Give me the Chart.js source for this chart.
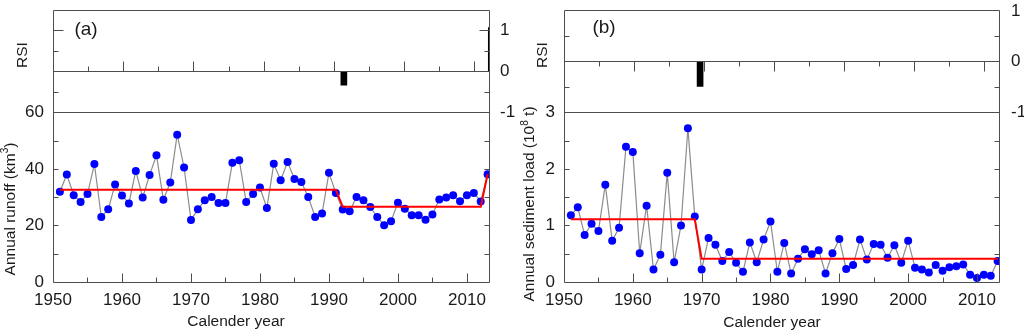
<!DOCTYPE html>
<html>
<head>
<meta charset="utf-8">
<title>Runoff and sediment load</title>
<script src="https://cdn.jsdelivr.net/npm/chart.js@4.4.0/dist/chart.umd.min.js"></script>
<style>
    html, body { margin: 0; padding: 0; background: #ffffff; }
    body { width: 1024px; height: 333px; position: relative; overflow: hidden; }
    .panel { position: absolute; top: 0; height: 333px; }
    #panelA { left: 0; width: 520px; }
    #panelB { left: 500px; width: 524px; }
</style>
</head>
<body>
<div class="panel" id="panelA"><canvas id="chartA" width="520" height="333"></canvas></div>
<div class="panel" id="panelB"><canvas id="chartB" width="524" height="333"></canvas></div>
<script>
// ---- data ----
const years = [1951, 1952, 1953, 1954, 1955, 1956, 1957, 1958, 1959, 1960,
    1961, 1962, 1963, 1964, 1965, 1966, 1967, 1968, 1969, 1970,
    1971, 1972, 1973, 1974, 1975, 1976, 1977, 1978, 1979, 1980,
    1981, 1982, 1983, 1984, 1985, 1986, 1987, 1988, 1989, 1990,
    1991, 1992, 1993, 1994, 1995, 1996, 1997, 1998, 1999, 2000,
    2001, 2002, 2003, 2004, 2005, 2006, 2007, 2008, 2009, 2010,
    2011, 2012, 2013];

// Annual runoff (km3)
const runoff = [31.9, 38.0, 30.7, 28.3, 31.1, 41.7, 23.0, 25.7, 34.5, 30.6,
    27.8, 39.3, 29.9, 37.8, 44.8, 29.1, 35.2, 52.1, 40.5, 21.9,
    25.7, 28.9, 30.1, 27.9, 27.9, 42.2, 43.1, 28.3, 31.1, 33.4,
    26.2, 41.8, 36.0, 42.4, 36.4, 35.4, 30.1, 23.0, 24.2, 38.6,
    31.5, 25.6, 25.0, 30.1, 28.9, 26.5, 23.0, 20.1, 21.5, 28.0,
    25.9, 23.6, 23.6, 22.0, 23.9, 29.2, 29.9, 30.7, 28.6, 30.7,
    31.5, 28.5, 38.1];

// Annual sediment load (10^8 t)
const sediment = [1.18, 1.32, 0.83, 1.03, 0.90, 1.72, 0.73, 0.96, 2.39, 2.30,
    0.51, 1.35, 0.22, 0.48, 1.93, 0.35, 1.00, 2.72, 1.16, 0.22,
    0.78, 0.66, 0.37, 0.53, 0.34, 0.18, 0.70, 0.35, 0.75, 1.07,
    0.18, 0.69, 0.15, 0.41, 0.58, 0.49, 0.56, 0.15, 0.51, 0.76,
    0.23, 0.30, 0.75, 0.40, 0.67, 0.66, 0.43, 0.65, 0.34, 0.73,
    0.25, 0.22, 0.17, 0.30, 0.20, 0.26, 0.28, 0.31, 0.13, 0.07,
    0.13, 0.11, 0.37];

// regime-shift means (red step lines)
const runoffMeanX = [1951, 1991, 1992, 2012, 2013];
const runoffMeanY = [32.6, 32.6, 26.6, 26.6, 38.1];
const sedimentMeanX = [1951, 1969, 1970, 2013];
const sedimentMeanY = [1.11, 1.11, 0.41, 0.41];

// regime shift index bars
const rsiYearsA = [1991, 2012];
const rsiValuesA = [-0.34, 1.06];
const rsiYearsB = [1969];
const rsiValuesB = [-0.49];

// tick labels and tick marks
const yearLabels = [1950, 1960, 1970, 1980, 1990, 2000, 2010];
const yearMarks = [1955, 1960, 1965, 1970, 1975, 1980, 1985, 1990, 1995, 2000, 2005, 2010];
const rsiLabels = [-1, 0, 1];
const rsiMarks = [-0.5, 0.5, 1];
const runoffLabels = [0, 20, 40, 60];
const runoffMarks = [10, 20, 30, 40, 50];
const sedimentLabels = [0, 1, 2, 3];
const sedimentMarks = [0.5, 1, 1.5, 2, 2.5];

const FONT = '"Liberation Sans", Arial, Helvetica, sans-serif';
const INK = '#1a1a1a';
const FRAME = '#4d4d4d';

function setTicks(values) {
    return function(scale) {
        scale.ticks = values.map(v => ({ value: v }));
    };
}

// fixed axis sizes, and no extra room for half labels at the ends
function fixSize(w, h) {
    return function(scale) {
        if (w !== null) scale.width = w;
        if (h !== null) scale.height = h;
        scale.paddingTop = 0;
        scale.paddingBottom = 0;
        scale.paddingLeft = 0;
        scale.paddingRight = 0;
    };
}

function crisp(v) {
    return Math.round(v) + 0.5;
}

// draws rotated text (reading upward), parts = [[text, isSuperscript], ...]
function rotatedText(ctx, parts, cx, cy, size) {
    const sup = size * 0.65;
    ctx.save();
    ctx.translate(cx, cy);
    ctx.rotate(-Math.PI / 2);
    ctx.textAlign = 'left';
    ctx.textBaseline = 'middle';
    let total = 0;
    parts.forEach(p => {
        ctx.font = (p[1] ? sup : size) + 'px ' + FONT;
        total += ctx.measureText(p[0]).width;
    });
    let px = -total / 2;
    parts.forEach(p => {
        ctx.font = (p[1] ? sup : size) + 'px ' + FONT;
        ctx.fillText(p[0], px, p[1] ? -size * 0.33 : 0);
        px += ctx.measureText(p[0]).width;
    });
    ctx.restore();
}

// frame, inward ticks, the RSI baseline, RSI labels and the axis titles
const framePlugin = {
    id: 'frame',
    // the RSI bars are clipped by hand to the plot box
    beforeDatasetDraw(chart, args) {
        if (args.meta.type !== 'bar') return;
        const a = chart.chartArea;
        const ctx = chart.ctx;
        ctx.save();
        ctx.beginPath();
        ctx.rect(a.left, a.top, Math.round(a.right) + 0.5 - a.left, a.bottom - a.top);
        ctx.clip();
    },
    afterDatasetDraw(chart, args) {
        if (args.meta.type !== 'bar') return;
        chart.ctx.restore();
    },
    afterDatasetsDraw(chart, args, opts) {
        const { ctx, chartArea: a, scales } = chart;
        const left = crisp(a.left), right = crisp(a.right);
        const top = crisp(a.top), bottom = crisp(a.bottom);
        ctx.save();
        ctx.strokeStyle = FRAME;
        ctx.lineWidth = 1;
        ctx.beginPath();
        ctx.rect(left, top, right - left, bottom - top);

        // RSI zero line and lower edge of RSI strip
        const zero = crisp(scales.rsi.getPixelForValue(0));
        const lower = crisp(scales.rsi.getPixelForValue(-1));
        ctx.moveTo(left, zero); ctx.lineTo(right, zero);
        ctx.moveTo(left, lower); ctx.lineTo(right, lower);

        // year ticks on the bottom axis
        yearMarks.forEach(v => {
            const px = crisp(scales.x.getPixelForValue(v));
            const len = v % 10 === 0 ? 9 : 5;
            ctx.moveTo(px, bottom); ctx.lineTo(px, bottom - len);
        });
        // year ticks on the RSI zero line
        yearMarks.forEach(v => {
            const px = crisp(scales.xr.getPixelForValue(v));
            const len = (v % 10 === 0 ? 10 : 5) * opts.zeroTickDir;
            ctx.moveTo(px, zero); ctx.lineTo(px, zero - len);
        });
        // RSI ticks on both sides
        rsiMarks.forEach(v => {
            const py = crisp(scales.rsi.getPixelForValue(v));
            if (py <= top + 1) return;
            const len = Number.isInteger(v) ? 10 : 5;
            ctx.moveTo(left, py); ctx.lineTo(left + len, py);
            ctx.moveTo(right, py); ctx.lineTo(right - len, py);
        });
        // data axis ticks on both sides
        opts.dataMarks.forEach(v => {
            const py = crisp(scales.y.getPixelForValue(v));
            ctx.moveTo(left, py); ctx.lineTo(left + 5, py);
            ctx.moveTo(right, py); ctx.lineTo(right - 5, py);
        });
        ctx.stroke();

        ctx.fillStyle = INK;
        // RSI labels on the right (kept a few pixels inside the canvas top)
        ctx.font = '17px ' + FONT;
        ctx.textAlign = 'left';
        ctx.textBaseline = 'middle';
        rsiLabels.forEach(v => {
            const py = Math.max(scales.rsi.getPixelForValue(v), 11);
            ctx.fillText(String(v), a.right + opts.rightPad, py);
        });

        // titles
        rotatedText(ctx, [['RSI', false]], opts.rsiTitle[0], opts.rsiTitle[1], 15.5);
        rotatedText(ctx, opts.yTitle, opts.yTitlePos[0], opts.yTitlePos[1], 15.5);
        ctx.font = '15.5px ' + FONT;
        ctx.textAlign = 'center';
        ctx.fillText('Calender year', opts.xTitlePos[0], opts.xTitlePos[1]);
        ctx.font = '19px ' + FONT;
        ctx.fillText(opts.tag, opts.tagPos[0], opts.tagPos[1]);
        ctx.restore();
    }
};

function makeChart(canvasId, s) {
    const ctx = document.getElementById(canvasId);
    const tickFont = { family: FONT, size: 17 };
    return new Chart(ctx, {
        data: {
            datasets: [
                {
                    type: 'line',
                    data: s.meanX.map((x, i) => ({ x: x, y: s.meanY[i] })),
                    borderColor: '#ff0000',
                    borderWidth: 2,
                    pointRadius: 0,
                    xAxisID: 'x',
                    yAxisID: 'y'
                },
                {
                    type: 'line',
                    data: years.map((x, i) => ({ x: x, y: s.values[i] })),
                    borderColor: '#8c8c8c',
                    borderWidth: 1.2,
                    pointRadius: 4,
                    pointBackgroundColor: '#0000ff',
                    pointBorderColor: '#0000ff',
                    pointBorderWidth: 0,
                    xAxisID: 'x',
                    yAxisID: 'y'
                },
                {
                    type: 'bar',
                    data: s.rsiYears.map((x, i) => ({ x: x, y: s.rsiValues[i] })),
                    backgroundColor: '#000000',
                    barThickness: 6,
                    clip: false,
                    xAxisID: 'xr',
                    yAxisID: 'rsi'
                }
            ]
        },
        options: {
            responsive: false,
            animation: false,
            events: [],
            layout: { padding: { top: 10, left: 0, right: 0, bottom: 0 } },
            plugins: {
                legend: { display: false },
                tooltip: { enabled: false },
                frame: s.frame
            },
            scales: {
                x: {
                    type: 'linear',
                    position: 'bottom',
                    min: 1950,
                    max: 2013.2,
                    offset: false,
                    afterBuildTicks: setTicks(yearLabels),
                    afterFit: fixSize(null, 51),
                    grid: { display: false, drawTicks: false },
                    border: { display: false },
                    ticks: {
                        font: tickFont, color: INK, padding: 8,
                        autoSkip: false, maxRotation: 0,
                        callback: v => String(v)
                    }
                },
                // year axis of the RSI strip, laid out on top with no height
                xr: {
                    type: 'linear',
                    position: 'top',
                    offset: false,
                    min: 1950,
                    max: 2012.1,
                    afterFit: fixSize(null, 0),
                    grid: { display: false, drawTicks: false, offset: false },
                    border: { display: false },
                    ticks: { display: false }
                },
                y: {
                    type: 'linear',
                    position: 'left',
                    min: 0,
                    max: s.yMax,
                    afterBuildTicks: setTicks(s.yLabels),
                    afterFit: fixSize(s.leftWidth, null),
                    grid: { display: false, drawTicks: false },
                    border: { display: false },
                    ticks: { font: tickFont, color: INK, padding: 9, autoSkip: false }
                },
                rsi: {
                    type: 'linear',
                    position: 'right',
                    min: s.rsiMin,
                    max: s.rsiMax,
                    afterFit: fixSize(s.rightWidth, null),
                    grid: { display: false, drawTicks: false },
                    border: { display: false },
                    ticks: { display: false }
                }
            }
        },
        plugins: [framePlugin]
    });
}

// (a) runoff
makeChart('chartA', {
    values: runoff,
    meanX: runoffMeanX,
    meanY: runoffMeanY,
    rsiYears: rsiYearsA,
    rsiValues: rsiValuesA,
    yMax: 96.2,
    yLabels: runoffLabels,
    rsiMin: -5.11,
    rsiMax: 1.485,
    leftWidth: 53,
    rightWidth: 31,
    frame: {
        zeroTickDir: 1,
        rightPad: 11,
        dataMarks: runoffMarks,
        rsiTitle: [22.5, 55],
        yTitle: [['Annual runoff (km', false], ['3', true], [')', false]],
        yTitlePos: [10.5, 209],
        xTitlePos: [236, 321.5],
        tag: '(a)',
        tagPos: [86, 30]
    }
});

// (b) sediment load
makeChart('chartB', {
    values: sediment,
    meanX: sedimentMeanX,
    meanY: sedimentMeanY,
    rsiYears: rsiYearsB,
    rsiValues: rsiValuesB,
    yMax: 4.81,
    yLabels: sedimentLabels,
    rsiMin: -4.31,
    rsiMax: 1,
    leftWidth: 64,
    rightWidth: 25,
    frame: {
        zeroTickDir: -1,
        rightPad: 12,
        dataMarks: sedimentMarks,
        rsiTitle: [42.5, 55],
        yTitle: [['Annual sediment load (10', false], ['8', true], [' t)', false]],
        yTitlePos: [30, 204],
        xTitlePos: [272, 323],
        tag: '(b)',
        tagPos: [104, 27.5]
    }
});
</script>
</body>
</html>
